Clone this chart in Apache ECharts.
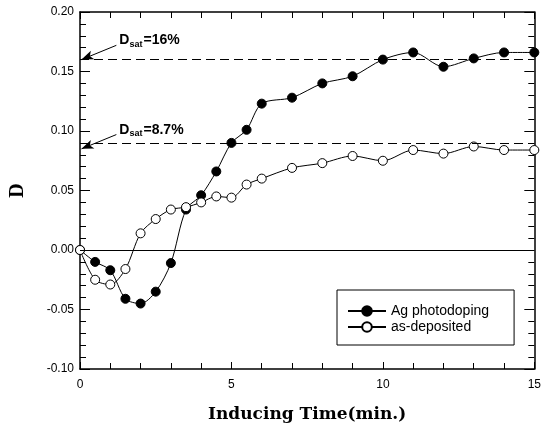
<!DOCTYPE html>
<html>
<head>
<meta charset="utf-8">
<script src="https://cdn.jsdelivr.net/npm/echarts@6/dist/echarts.min.js"></script>
<style>
  html, body { margin: 0; padding: 0; background: #fff; }
  #chart { width: 544px; height: 432px; }
</style>
</head>
<body>
<div id="chart"></div>
<script>
const times = [0, 0.5, 1, 1.5, 2, 2.5, 3, 3.5, 4, 4.5, 5, 5.5, 6, 7, 8, 9, 10, 11, 12, 13, 14, 15]
const agPhotodoping = [0, -0.010, -0.017, -0.041, -0.045, -0.035, -0.011, 0.034, 0.046, 0.066, 0.090, 0.101, 0.123, 0.128, 0.140, 0.146, 0.160, 0.166, 0.154, 0.161, 0.166, 0.166]
const asDeposited = [0, -0.025, -0.029, -0.016, 0.014, 0.026, 0.034, 0.036, 0.040, 0.045, 0.044, 0.055, 0.060, 0.069, 0.073, 0.079, 0.075, 0.084, 0.081, 0.087, 0.084, 0.084]
const satLevels = [0.16, 0.085]
const satLabels = ['16%', '8.7%']

const chart = echarts.init(document.getElementById('chart'))

const pair = (xs, ys) => xs.map((x, i) => [x, ys[i]])

const tickLabel = { color: '#000', fontFamily: 'Liberation Sans', fontSize: 12 }
const frameLine = { show: true, onZero: false, lineStyle: { color: '#000', width: 1.5 } }

const option = {
  animation: false,
  backgroundColor: '#fff',
  grid: { left: 78, right: 7, top: 12, bottom: 63 },
  xAxis: [
    {
      type: 'value', min: 0, max: 15, interval: 5,
      name: 'Inducing Time(min.)',
      nameLocation: 'middle', nameGap: 37,
      nameTextStyle: { color: '#000', fontFamily: 'DejaVu Serif', fontWeight: 'bold', fontSize: 17 },
      axisLine: frameLine,
      axisTick: { show: true, inside: true, length: 7, lineStyle: { color: '#000' } },
      minorTick: { show: true, splitNumber: 5, length: 6, lineStyle: { color: '#000' } },
      axisLabel: { ...tickLabel, margin: 10 },
      splitLine: { show: false }
    },
    {
      type: 'value', min: 0, max: 15, interval: 5, position: 'top',
      axisLine: frameLine,
      axisTick: { show: true, inside: true, length: 7, lineStyle: { color: '#000' } },
      minorTick: { show: true, splitNumber: 5, length: 6, lineStyle: { color: '#000' } },
      axisLabel: { show: false },
      splitLine: { show: false }
    }
  ],
  yAxis: [
    {
      type: 'value', min: -0.1, max: 0.2, interval: 0.05,
      name: 'D',
      nameLocation: 'middle', nameGap: 52,
      nameTextStyle: { color: '#000', fontFamily: 'Liberation Serif', fontWeight: 'bold', fontSize: 20 },
      axisLine: frameLine,
      axisTick: { show: true, inside: true, length: 10, lineStyle: { color: '#000' } },
      minorTick: { show: true, splitNumber: 5, length: 6, lineStyle: { color: '#000' } },
      axisLabel: { ...tickLabel, margin: 6, formatter: v => v.toFixed(2) },
      splitLine: { show: false }
    },
    {
      type: 'value', min: -0.1, max: 0.2, interval: 0.05, position: 'right',
      axisLine: frameLine,
      axisTick: { show: true, inside: true, length: 10, lineStyle: { color: '#000' } },
      minorTick: { show: true, splitNumber: 5, length: 6, lineStyle: { color: '#000' } },
      axisLabel: { show: false },
      splitLine: { show: false }
    }
  ],
  legend: {
    data: ['Ag photodoping', 'as-deposited'],
    orient: 'vertical',
    left: 337, top: 290,
    padding: [14, 25, 11, 10],
    itemGap: 2,
    itemWidth: 38, itemHeight: 12,
    borderColor: '#000', borderWidth: 1, borderRadius: 0,
    textStyle: { color: '#000', fontFamily: 'Liberation Sans', fontSize: 14 }
  },
  series: [
    {
      name: 'Ag photodoping',
      type: 'line',
      data: pair(times, agPhotodoping),
      smooth: 0.3,
      symbol: 'circle', symbolSize: 9,
      itemStyle: { color: '#000', borderColor: '#000', borderWidth: 1 },
      lineStyle: { color: '#000', width: 1 },
      z: 3
    },
    {
      name: 'as-deposited',
      type: 'line',
      data: pair(times, asDeposited),
      smooth: 0.3,
      symbol: 'circle', symbolSize: 9,
      itemStyle: { color: '#fff', borderColor: '#000', borderWidth: 1 },
      lineStyle: { color: '#000', width: 1 },
      z: 4
    },
    {
      name: 'guides',
      type: 'line',
      data: [],
      silent: true,
      markLine: {
        silent: true,
        symbol: ['none', 'none'],
        label: { show: false },
        data: [
          { yAxis: 0, lineStyle: { type: 'solid', color: '#000', width: 1 } },
          ...satLevels.map(v => ({ yAxis: v, lineStyle: { type: [9, 5], color: '#000', width: 1 } })),
          ...satLevels.map(v => [
            { coord: [1.2, v + 0.012], symbol: 'none', lineStyle: { type: 'solid', color: '#000', width: 1 } },
            { coord: [0.05, v], symbol: 'arrow', symbolSize: [7, 12] }
          ])
        ]
      },
      markPoint: {
        silent: true,
        symbol: 'circle', symbolSize: 0,
        data: satLevels.map((v, i) => ({
          coord: [1.3, v + 0.016],
          label: {
            show: true, position: 'right', distance: 0,
            formatter: '{d|D}{s|sat}{d|=' + satLabels[i] + '}',
            rich: {
              d: { fontFamily: 'Liberation Sans', fontSize: 14, fontWeight: 'bold', color: '#000' },
              s: { fontFamily: 'Liberation Sans', fontSize: 9, fontWeight: 'bold', color: '#000', padding: [8, 1, 0, 0] }
            }
          }
        }))
      }
    }
  ]
}

chart.setOption(option)
</script>
</body>
</html>
